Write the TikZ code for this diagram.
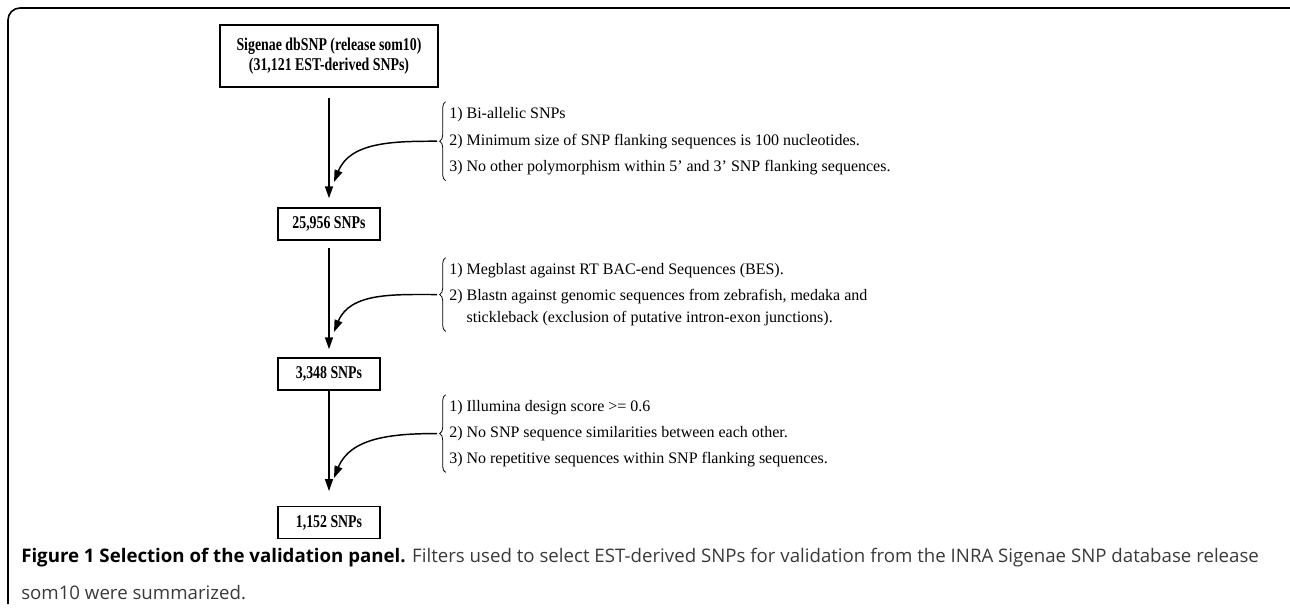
\documentclass[tikz,border=0pt]{standalone}
\usepackage{fontspec}
\setmainfont{Liberation Serif}
\newfontfamily\boxfont{Liberation Serif}[FakeStretch=0.77]
\newfontfamily\capfont{Open Sans}
\usetikzlibrary{arrows.meta,positioning,decorations.pathreplacing}
\definecolor{captext}{HTML}{3A3A3A}

\begin{document}
\begin{tikzpicture}[x=0.75pt, y=-0.75pt,
    countbox/.style={draw, line width=1.1pt, minimum width=76.5pt, minimum height=24pt,
      inner sep=0pt, align=center, font=\boxfont\bfseries\fontsize{13.5}{15}\selectfont},
    flow/.style={line width=1.1pt, -{Triangle[length=9pt,width=6pt]}},
    filterarrow/.style={line width=1.1pt, -{Triangle[length=9pt,width=6pt]}},
    filters/.style={anchor=north west, inner sep=0pt, align=left,
      font=\fontsize{12}{16.5}\selectfont},
    curly/.style={decorate, decoration={brace, amplitude=4.5pt}, line width=0.6pt}]

\useasboundingbox (0,0) rectangle (1290,608);
% frame round the figure
\draw[line width=1.2pt, rounded corners=9pt] (1290,8) -- (8,8) -- (8,604);

% SNP counts
\node[countbox, minimum width=163.5pt, minimum height=46.5pt] (db) at (329,56)
  {Sigenae dbSNP (release som10)\\(31,121 EST-derived SNPs)};
\node[countbox] (n1) at (329,224) {25,956 SNPs};
\node[countbox] (n2) at (329,374) {3,348 SNPs};
\node[countbox] (n3) at (329,522.5) {1,152 SNPs};

\draw[flow, shorten <=7.5pt, shorten >=6.75pt] (db) -- (n1);
\draw[flow, shorten <=5.25pt, shorten >=6pt] (n1) -- (n2);
\draw[flow, shorten >=11pt] (n2) -- (n3);

% filters
\node[filters] (filtA) at (449,107) {1) Bi-allelic SNPs\\[3.5pt]
  2) Minimum size of SNP flanking sequences is 100 nucleotides.\\[3.5pt]
  3) No other polymorphism within 5’ and 3’ SNP flanking sequences.};
\node[filters] (filtB) at (449,263) {1) Megblast against RT BAC-end Sequences (BES).\\[3pt]
  2) Blastn against genomic sequences from zebrafish, medaka and\\
  \phantom{2) }stickleback (exclusion of putative intron-exon junctions).};
\node[filters] (filtC) at (449,400) {1) Illumina design score >= 0.6\\[3pt]
  2) No SNP sequence similarities between each other.\\[3pt]
  3) No repetitive sequences within SNP flanking sequences.};

\foreach \f in {filtA,filtB,filtC}
  \draw[curly] ([xshift=-2.5pt,yshift=-4pt]\f.south west) -- ([xshift=-2.5pt,yshift=4pt]\f.north west);

\coordinate (endA) at (334,182);
\coordinate (endB) at (334,332);
\coordinate (endC) at (334,478);
\draw[filterarrow] ([xshift=-9pt]filtA.west) to[out=180, in=68] (endA);
\draw[filterarrow] ([xshift=-9pt]filtB.west) to[out=180, in=68] (endB);
\draw[filterarrow] ([xshift=-9pt]filtC.west) to[out=180, in=68] (endC);

% caption
\node[anchor=north west, inner sep=0pt, align=left, text=captext,
  font=\capfont\fontsize{14}{27.75}\selectfont] (cap) at (21,548)
  {{\bfseries\color{black}Figure 1 Selection of the validation panel.} Filters used to select EST-derived SNPs for validation from the INRA Sigenae SNP database release\\
   som10 were summarized.};
\end{tikzpicture}
\end{document}
